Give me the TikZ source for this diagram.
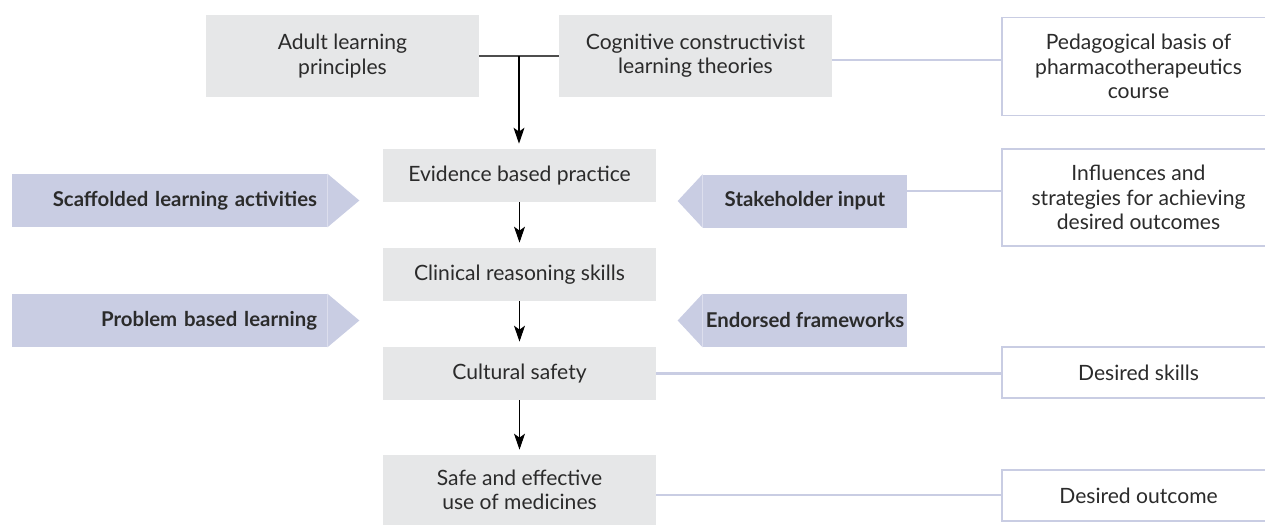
\documentclass[tikz,border=0pt]{standalone}
\usepackage{fontspec}
\setmainfont{Lato}
\usepackage{xcolor}
\usepackage{tikz}
\usetikzlibrary{arrows.meta, positioning, calc}
\definecolor{C_CORE}{HTML}{E6E7E8}
\definecolor{C_LAV} {HTML}{C9CDE3}
\definecolor{C_TXT} {HTML}{2B2B2B}
\definecolor{C_JOIN}{HTML}{4D4D4D}
\tikzset{
  %% -- grey boxes of the central chain --
  FW/core/.style={
    fill=C_CORE, minimum width=5.46cm, minimum height=1.06cm,
    align=center, text=C_TXT, font=\fontsize{12}{13.8}\selectfont
  },
  %% -- lavender arrow bodies (influences) --
  FW/push/.style={
    fill=C_LAV, minimum height=1.06cm, inner xsep=0.2cm,
    text=C_TXT, font=\fontsize{11.6}{13.8}\selectfont\bfseries
  },
  %% -- lavender arrow points --
  FW/tip/.style={fill=C_LAV},
  %% -- white side labels on the right --
  FW/side/.style={
    draw=C_LAV, line width=1.1pt, fill=white,
    minimum width=5.46cm, align=center, text=C_TXT,
    font=\fontsize{12}{13.8}\selectfont
  },
  %% -- connectors --
  FW/link/.style={draw=C_LAV, line width=1.2pt},
  FW/join/.style={draw=C_JOIN, line width=0.8pt},
  FW/flow/.style={-{Stealth[length=0.32cm, width=0.22cm, inset=0.08cm]},
    line width=0.6pt, shorten >=0.1cm},
}
\begin{document}
\begin{tikzpicture}[x=1cm, y=1cm]
\useasboundingbox (0,0) rectangle (25.3,-10.5);

%% ── Column x-positions ───────────────────────────────────────
\pgfmathsetmacro{\xM}{10.39}  % central chain
\pgfmathsetmacro{\xL}{3.39}   % left arrows
\pgfmathsetmacro{\xR}{16.1}   % right arrows
\pgfmathsetmacro{\xS}{22.77}  % side labels

%% ── Theories on top ──────────────────────────────────────────
\node[FW/core, minimum height=1.64cm] (adult) at (6.85,-1.12)
  {Adult learning\\principles};
\node[FW/core, minimum height=1.64cm] (cog) at (13.91,-1.12)
  {Cognitive constructivist\\learning theories};

%% ── Central chain ────────────────────────────────────────────
\node[FW/core] (ebp)  at (\xM,-3.51) {Evidence based practice};
\node[FW/core] (crs)  at (\xM,-5.49) {Clinical reasoning skills};
\node[FW/core] (cult) at (\xM,-7.47) {Cultural safety};
\node[FW/core, minimum height=1.4cm] (safe) at (\xM,-9.8)
  {Safe and effective\\use of medicines};

%% ── Influences (left and right arrows) ───────────────────────
\node[FW/push, text width=5.9cm, align=right] (scaf) at (\xL,-4.01)
  {Scaffolded learning activities};
\node[FW/push, text width=5.9cm, align=right] (pbl) at (\xL,-6.41)
  {Problem based learning};
\node[FW/push, minimum width=4.08cm, inner xsep=0.05cm] (stake) at (\xR,-4.02)
  {Stakeholder input};
\node[FW/push, minimum width=4.08cm, inner xsep=0.05cm] (endo) at (\xR,-6.41)
  {Endorsed frameworks};

\foreach \n in {scaf, pbl}
  \fill[FW/tip] (\n.north east) -- ($(\n.east)+(0.64,0)$)
    -- (\n.south east) -- cycle;
\foreach \n in {stake, endo}
  \fill[FW/tip] (\n.north west) -- ($(\n.west)+(-0.5,0)$)
    -- (\n.south west) -- cycle;

%% ── Side labels ──────────────────────────────────────────────
\node[FW/side, minimum height=1.96cm] (ped) at (\xS,-1.33)
  {Pedagogical basis of\\pharmacotherapeutics\\course};
\node[FW/side, minimum height=1.94cm] (infl) at (\xS,-3.95)
  {Influences and\\strategies for achieving\\desired outcomes};
\node[FW/side, minimum height=1.02cm] (skill) at (\xS,-7.45)
  {Desired skills};
\node[FW/side, minimum height=1.02cm] (outc) at (\xS,-9.91)
  {Desired outcome};

%% ── Connectors ───────────────────────────────────────────────
\draw[FW/join] (adult) -- (cog);
\coordinate (jn) at ($(adult.east)!0.5!(cog.west)$);
\draw[FW/flow] (jn) -- (jn |- ebp.north);
\draw[FW/flow] (ebp) -- (crs);
\draw[FW/flow] (crs) -- (cult);
\draw[FW/flow] (cult) -- (safe);

\draw[FW/link] ([yshift=-0.08cm]cog.east) -- ([yshift=-0.08cm]cog.east -| ped.west);
\draw[FW/link] ([yshift=0.2cm]stake.east) -- ([yshift=0.2cm]stake.east -| infl.west);
\draw[FW/link] (cult.east) -- (cult.east -| skill.west);
\draw[FW/link] ([yshift=-0.1cm]safe.east) -- ([yshift=-0.1cm]safe.east -| outc.west);

\end{tikzpicture}
\end{document}
